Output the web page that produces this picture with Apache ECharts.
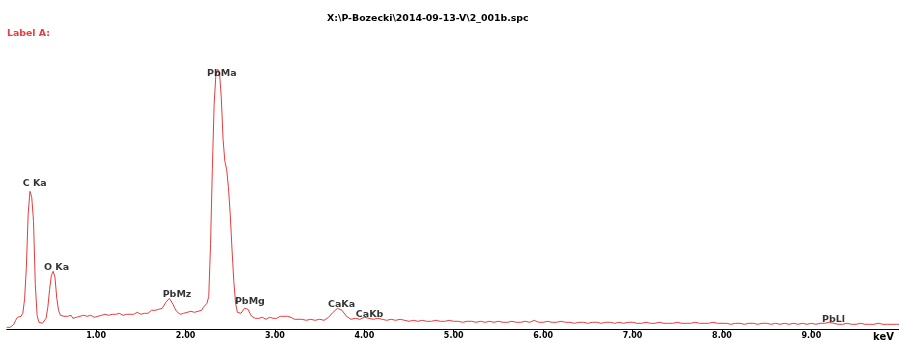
<!DOCTYPE html>
<html>
<head>
<meta charset="utf-8">
<script src="https://cdn.jsdelivr.net/npm/echarts@6/dist/echarts.min.js"></script>
<style>
html,body{margin:0;padding:0;background:#fff;}
#chart{width:899px;height:343px;}
</style>
</head>
<body>
<div id="chart"></div>
<script>
// Spectrum title and label
const titleText = 'X:\\P-Bozecki\\2014-09-13-V\\2_001b.spc';
const labelText = 'Label A:';

// Low-energy counts, 0.00 to 3.28 keV in 0.02 keV steps
const lowStart = 0.0;
const lowStep = 0.02;
const lowCounts = [
  2,2,2,3,5,9,12,14,13,16,
  30,62,115,138,132,108,45,14,7,6,
  6,7,11,22,40,54,58,52,31,19,
  14,12,13,11,13,12,14,11,13,12,
  11,13,12,14,12,13,12,14,13,12,
  14,13,12,14,13,15,13,14,13,15,
  14,15,14,16,15,14,16,15,16,15,
  17,15,16,17,16,15,17,16,18,16,
  17,19,17,19,18,20,19,21,24,27,
  29,31,29,25,21,18,16,15,17,16,
  15,17,16,18,16,17,19,18,20,19,
  22,23,26,33,85,160,225,255,260,257,
  232,190,168,160,142,115,80,48,26,17,
  15,16,18,21,23,20,16,13,12,11,
  12,11,10,12,11,10,11,12,10,11,
  12,11,12,13,14,13,12,13,11,12,
  11,10,11,10,10
];

// High-energy counts, 3.30 to 10.00 keV in 0.05 keV steps
const highStart = 3.30;
const highStep = 0.05;
const highCounts = [
  10,9,10,9,10,9,12,17,21,19,
  13,10,11,10,12,11,10,11,10,9,
  10,9,10,9,8,9,8,9,8,8,
  9,8,8,9,8,8,7,8,8,7,
  8,7,8,7,8,7,7,8,7,7,
  8,7,9,7,7,8,7,7,8,7,
  7,6,7,7,6,7,7,6,7,7,
  6,7,6,7,7,6,6,7,6,6,
  7,6,6,6,7,6,6,6,7,6,
  6,6,7,6,6,6,5,6,6,5,
  6,6,5,6,6,5,6,5,6,5,
  6,5,6,5,6,5,6,6,7,6,
  5,5,6,5,5,6,5,5,5,6,
  5,5,5,5,5
];

// Peak identification labels (label centre energy, label height)
const peakNames = ['C Ka','O Ka','PbMz','PbMa','PbMg','CaKa','CaKb','PbLl'];
const peakLabelEnergy = [0.313,0.557,1.905,2.405,2.72,3.745,4.058,9.248];
const peakLabelHeight = [146,62,35,256,28,25,15,10];

// Axis ticks
const tickValues = [1,2,3,4,5,6,7,8,9];
const axisUnit = 'keV';

const spectrum = [];
lowCounts.forEach((c,i)=>spectrum.push([+(lowStart+i*lowStep).toFixed(3), c]));
highCounts.forEach((c,i)=>spectrum.push([+(highStart+i*highStep).toFixed(3), c]));

const labelData = peakNames.map((n,i)=>({name:n, value:[peakLabelEnergy[i], peakLabelHeight[i]]}));

const chart = echarts.init(document.getElementById('chart'), null, {renderer:'canvas'});
chart.setOption({
  animation:false,
  backgroundColor:'#fff',
  title:{
    text:titleText,
    left:322, top:9,
    textStyle:{fontFamily:'DejaVu Sans', fontSize:9.4, fontWeight:'bold', color:'#000'}
  },
  grid:{left:6.7, right:0, top:59.3, bottom:13.7},
  xAxis:{
    type:'value', min:0, max:9.98, interval:1,
    axisLine:{show:true, lineStyle:{color:'#000', width:1}},
    axisTick:{show:true, length:3, customValues:tickValues, lineStyle:{color:'#000'}},
    axisLabel:{show:true, customValues:tickValues, margin:3,
      formatter:v=>v.toFixed(2),
      fontFamily:'DejaVu Sans', fontWeight:'bold', fontSize:8, color:'#000'},
    splitLine:{show:false}
  },
  yAxis:{
    type:'value', min:0, max:270, show:false,
    splitLine:{show:false}
  },
  graphic:[
    {type:'text', left:7, top:29, style:{text:labelText, fill:'#ee3a45',
      font:'bold 9.4px "DejaVu Sans"'}},
    {type:'text', left:873, top:332, style:{text:axisUnit, fill:'#000',
      font:'bold 10px "DejaVu Sans"'}}
  ],
  series:[
    {
      type:'line', data:spectrum, showSymbol:false, symbol:'none',
      lineStyle:{color:'#e63c3c', width:1},
      z:2, silent:true
    },
    {
      type:'scatter', data:labelData, symbolSize:1,
      itemStyle:{color:'rgba(0,0,0,0)'},
      label:{show:true, position:'inside', formatter:p=>p.name,
        fontFamily:'DejaVu Sans', fontWeight:'bold', fontSize:9.5, color:'#000',
        textBorderWidth:0},
      z:3, silent:true
    }
  ]
});
</script>
</body>
</html>
